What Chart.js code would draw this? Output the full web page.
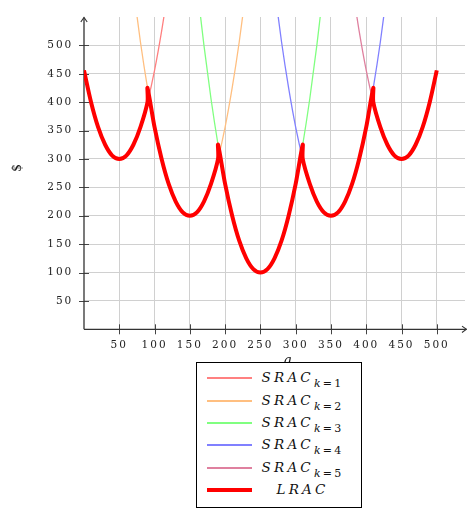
<!DOCTYPE html>
<html>
<head>
<meta charset="utf-8">
<title>SRAC and LRAC</title>
<script src="https://cdn.jsdelivr.net/npm/chart.js@4.4.1/dist/chart.umd.min.js"></script>
<style>
  html, body { margin: 0; padding: 0; background: #fff; }
  #wrap { position: relative; width: 467px; height: 508px; }
  #legend {
    position: absolute; left: 196px; top: 362px; width: 164px; height: 144px;
    border: 1px solid #000; background: #fff; font-family: "DejaVu Serif", serif; color: #111;
  }
  .swatch { position: absolute; left: 10px; width: 45px; }
  .txt {
    position: absolute; left: 58px; width: 95px; height: 16px; text-align: center;
    font-style: italic; font-size: 13.5px; line-height: 16px; letter-spacing: 3.2px; white-space: nowrap;
  }
  .txt .sub { position: relative; top: 5px; font-size: 11px; font-style: normal; letter-spacing: 2.2px; }
</style>
</head>
<body>
<div id="wrap">
  <canvas id="costChart"></canvas>
  <div id="legend"></div>
</div>
<script>
// quantity grid the short-run curves are read on
const quantity = [0, 10, 20, 30, 40, 50, 60, 70, 80, 90, 100, 110, 120, 130, 140, 150, 160, 170, 180, 190,
  200, 210, 220, 230, 240, 250, 260, 270, 280, 290, 300, 310, 320, 330, 340, 350, 360, 370, 380, 390,
  400, 410, 420, 430, 440, 450, 460, 470, 480, 490, 500];

// short-run average cost, one list per plant size (null = off the top of the plot)
const sracK1 = [456, 400, 356, 325, 306, 300, 306, 325, 356, 400, 456, 525, 606, null, null, null, null,
  null, null, null, null, null, null, null, null, null, null, null, null, null, null, null, null, null,
  null, null, null, null, null, null, null, null, null, null, null, null, null, null, null, null, null];
const sracK2 = [null, null, null, null, null, null, null, 600, 506, 425, 356, 300, 256, 225, 206, 200, 206,
  225, 256, 300, 356, 425, 506, 600, null, null, null, null, null, null, null, null, null, null, null,
  null, null, null, null, null, null, null, null, null, null, null, null, null, null, null, null];
const sracK3 = [null, null, null, null, null, null, null, null, null, null, null, null, null, null, null,
  null, 606, 500, 406, 325, 256, 200, 156, 125, 106, 100, 106, 125, 156, 200, 256, 325, 406, 500, 606,
  null, null, null, null, null, null, null, null, null, null, null, null, null, null, null, null];
const sracK4 = [null, null, null, null, null, null, null, null, null, null, null, null, null, null, null,
  null, null, null, null, null, null, null, null, null, null, null, null, 600, 506, 425, 356, 300, 256,
  225, 206, 200, 206, 225, 256, 300, 356, 425, 506, 600, null, null, null, null, null, null, null];
const sracK5 = [null, null, null, null, null, null, null, null, null, null, null, null, null, null, null,
  null, null, null, null, null, null, null, null, null, null, null, null, null, null, null, null, null,
  null, null, null, null, null, null, 606, 525, 456, 400, 356, 325, 306, 300, 306, 325, 356, 400, 456];

// long-run envelope (repeated q = jump between plant sizes)
const lracQ = [0, 10, 20, 30, 40, 50, 60, 70, 80, 90, 90, 100, 110, 120, 130, 140, 150, 160, 170, 180, 190,
  190, 200, 210, 220, 230, 240, 250, 260, 270, 280, 290, 300, 310, 310, 320, 330, 340, 350, 360, 370, 380,
  390, 400, 410, 410, 420, 430, 440, 450, 460, 470, 480, 490, 500];
const lracCost = [456, 400, 356, 325, 306, 300, 306, 325, 356, 400, 425, 356, 300, 256, 225, 206, 200, 206,
  225, 256, 300, 325, 256, 200, 156, 125, 106, 100, 106, 125, 156, 200, 256, 325, 300, 256, 225, 206, 200,
  206, 225, 256, 300, 356, 425, 400, 356, 325, 306, 300, 306, 325, 356, 400, 456];

const qTicks = [50, 100, 150, 200, 250, 300, 350, 400, 450, 500];
const costTicks = [50, 100, 150, 200, 250, 300, 350, 400, 450, 500];

const legendMain = ["SRAC", "SRAC", "SRAC", "SRAC", "SRAC", "LRAC"];
const legendSub = ["k=1", "k=2", "k=3", "k=4", "k=5", ""];

const sracColors = ["#ff8080", "#ffbf80", "#80ff80", "#8080ff", "#df809f"];

function toPoints(xs, ys) {
  return xs.map((x, i) => ({ x: x, y: ys[i] }));
}

const axisPlugin = {
  id: "axisArrows",
  beforeDraw(chart) {
    chart.ctx.letterSpacing = "2px";
  },
  beforeDatasetsDraw(chart) {
    const { ctx, chartArea, scales } = chart;
    const x0 = scales.x.getPixelForValue(0);
    const y0 = scales.y.getPixelForValue(0);
    ctx.save();
    ctx.letterSpacing = "0px";
    ctx.strokeStyle = "#444";
    ctx.lineWidth = 1;
    ctx.beginPath();
    qTicks.forEach(v => {
      const px = Math.round(scales.x.getPixelForValue(v)) + 0.5;
      ctx.moveTo(px, y0 - 5); ctx.lineTo(px, y0 + 5);
    });
    costTicks.forEach(v => {
      const py = Math.round(scales.y.getPixelForValue(v)) + 0.5;
      ctx.moveTo(x0 - 5, py); ctx.lineTo(x0 + 5, py);
    });
    ctx.stroke();

    // axis lines with open arrow heads
    ctx.strokeStyle = "#333";
    ctx.lineWidth = 1.3;
    ctx.beginPath();
    ctx.moveTo(x0, y0); ctx.lineTo(x0, chartArea.top + 0.5);
    ctx.moveTo(x0, y0); ctx.lineTo(chartArea.right + 1.5, y0);
    ctx.stroke();
    ctx.lineWidth = 1.1;
    ctx.beginPath();
    ctx.moveTo(x0 - 3.2, chartArea.top + 5); ctx.lineTo(x0, chartArea.top + 0.5); ctx.lineTo(x0 + 3.2, chartArea.top + 5);
    ctx.moveTo(chartArea.right - 3, y0 - 3.2); ctx.lineTo(chartArea.right + 1.5, y0); ctx.lineTo(chartArea.right - 3, y0 + 3.2);
    ctx.stroke();

    // axis titles
    ctx.fillStyle = "#111";
    ctx.textAlign = "center";
    ctx.font = "italic 13px 'DejaVu Serif'";
    ctx.textBaseline = "alphabetic";
    ctx.fillText("q", 287.5, 364);
    ctx.translate(18, 168);
    ctx.rotate(-Math.PI / 2);
    ctx.font = "12px 'DejaVu Serif'";
    ctx.textBaseline = "middle";
    ctx.fillText("$", 0, 0);
    ctx.restore();
  }
};

const sracSeries = [sracK1, sracK2, sracK3, sracK4, sracK5];
const datasets = sracSeries.map((vals, i) => ({
  label: legendMain[i] + " " + legendSub[i],
  data: toPoints(quantity, vals),
  borderColor: sracColors[i],
  borderWidth: 1.3,
  pointRadius: 0,
  cubicInterpolationMode: "monotone",
  spanGaps: false,
  order: 1
}));
datasets.push({
  label: "LRAC",
  data: toPoints(lracQ, lracCost),
  borderColor: "#ff0000",
  borderWidth: 4,
  pointRadius: 0,
  tension: 0.3,
  order: 0 // drawn last, on top of the thin curves
});

const tickFont = { family: "'DejaVu Serif', serif", size: 10.5 };

const chart = new Chart(document.getElementById("costChart"), {
  type: "line",
  data: { datasets: datasets },
  options: {
    responsive: true,
    maintainAspectRatio: false,
    animation: false,
    layout: { padding: { top: 6.6, right: 2, bottom: 0, left: 0 } },
    plugins: { legend: { display: false }, tooltip: { enabled: false } },
    scales: {
      x: {
        type: "linear", min: 0, max: 540,
        afterBuildTicks: s => { s.ticks = qTicks.map(v => ({ value: v })); },
        afterFit: s => { s.height = 508 - 329.3; },
        grid: { color: "#d0d0d0", lineWidth: 1, drawTicks: false },
        border: { display: false },
        ticks: { font: tickFont, color: "#222", padding: 10, maxRotation: 0, callback: v => String(v) }
      },
      y: {
        type: "linear", min: 0, max: 550,
        afterBuildTicks: s => { s.ticks = costTicks.map(v => ({ value: v })); },
        afterFit: s => { s.width = 84; },
        grid: { color: "#d0d0d0", lineWidth: 1, drawTicks: false },
        border: { display: false },
        ticks: { font: tickFont, color: "#222", padding: 10.7, callback: v => String(v) }
      }
    }
  },
  plugins: [axisPlugin]
});

// legend box built from the chart's datasets
const legendBox = document.getElementById("legend");
chart.data.datasets.forEach((ds, i) => {
  const rowY = 15.3 + i * 22.35;
  const sw = document.createElement("div");
  sw.className = "swatch";
  const h = ds.borderWidth > 2 ? 4 : 2;
  sw.style.height = h + "px";
  sw.style.top = (rowY - h / 2) + "px";
  sw.style.background = ds.borderColor;
  legendBox.appendChild(sw);

  const txt = document.createElement("div");
  txt.className = "txt";
  txt.style.top = (rowY - 9) + "px";
  txt.textContent = legendMain[i];
  if (legendSub[i]) {
    const sub = document.createElement("span");
    sub.className = "sub";
    sub.innerHTML = "<i>k</i>" + legendSub[i].slice(1);
    txt.appendChild(sub);
  }
  legendBox.appendChild(txt);
});
</script>
</body>
</html>
